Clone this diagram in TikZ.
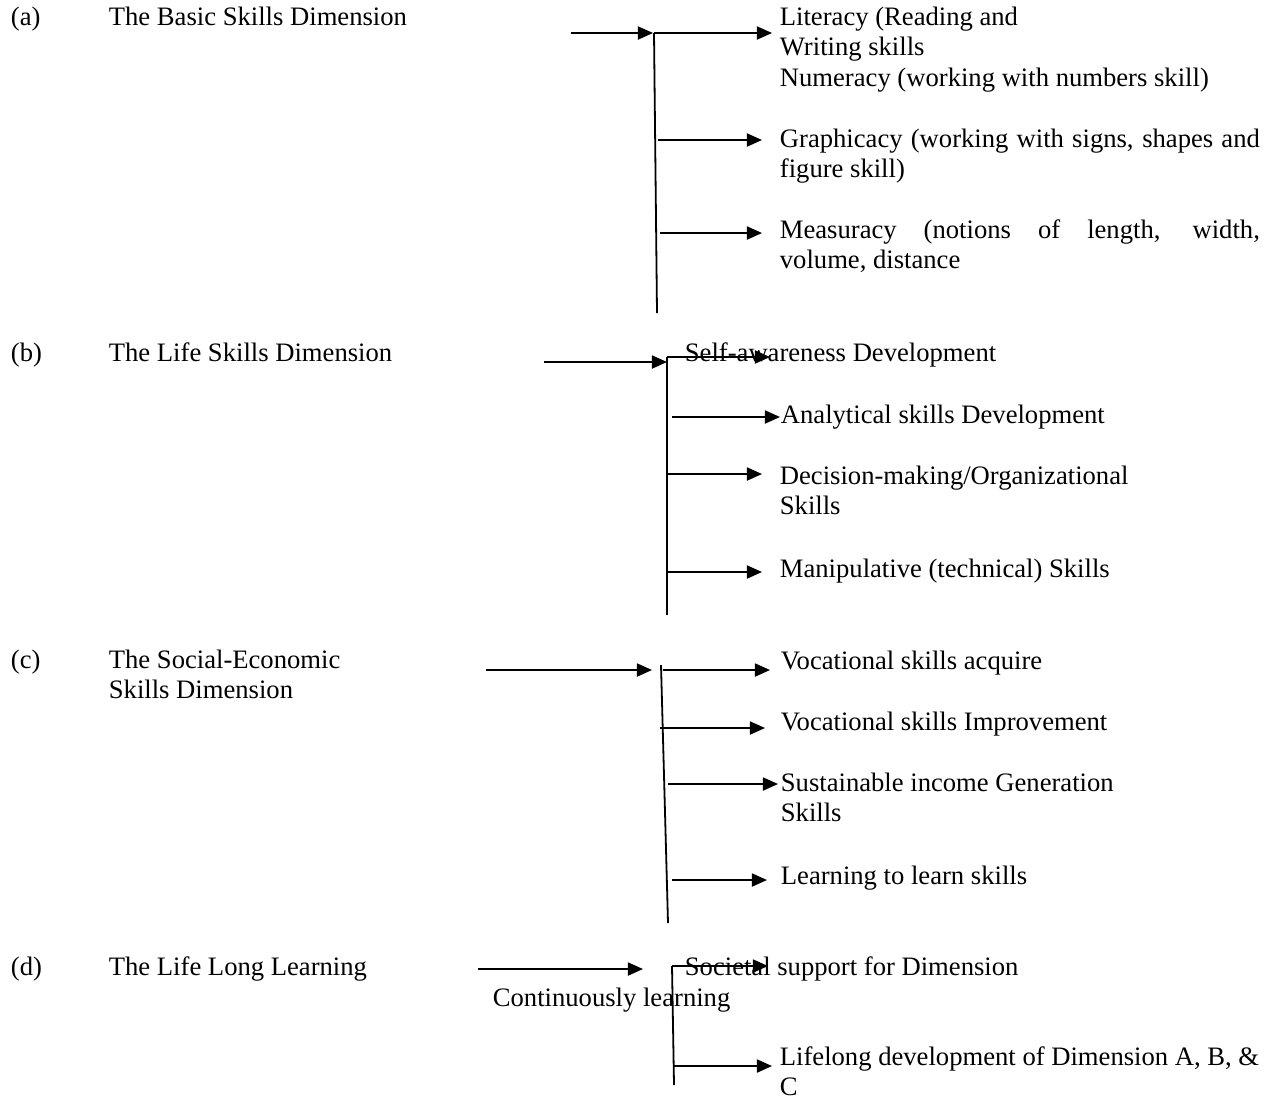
\documentclass[tikz,border=0pt]{standalone}
\usepackage{fontspec}
\setmainfont{Liberation Serif}
\usetikzlibrary{arrows.meta}

\begin{document}
\begin{tikzpicture}[> = {Triangle[length = 6.7pt, width = 5.8pt]},
	x = 0.445pt, y = -0.445pt, line width = 0.8pt,
	txt/.style = {anchor = base west, inner sep = 0pt, font = \fontsize{11.85}{13.6}\selectfont},
	mtxt/.style = {txt, text width = 230pt, align = flush left},
	jtxt/.style = {txt, text width = 213.6pt, align = justify}]

	% Definitions

	\useasboundingbox (0, 0) rectangle (1272, 1099);

	% Draw dimension labels

	\foreach \n/\y/\s in {a/25/The Basic Skills Dimension, b/361/The Life Skills Dimension,
		c/668/{The Social-Economic\\Skills Dimension}, d/975/The Life Long Learning}
	{
		\node [txt] (tag\n) at (10, \y) {(\n)};
		\node [mtxt] (dim\n) at (108, \y) {\s};
	}

	% Draw skill texts

	\node [mtxt] (lit) at (779, 25) {Literacy (Reading and\\Writing skills\\Numeracy (working with numbers skill)};
	\node [jtxt] (gra) at (779, 147) {Graphicacy (working with signs, shapes and\linebreak figure skill)};
	\node [jtxt] (mea) at (779, 238) {Measuracy (notions of length, width,\linebreak volume, distance};

	\node [txt] (sel) at (684, 361) {Self-awareness Development};
	\node [txt] (ana) at (780, 423) {Analytical skills Development};
	\node [mtxt] (dec) at (779, 484) {Decision-making/Organizational\\Skills};
	\node [txt] (man) at (779, 577) {Manipulative (technical) Skills};

	\node [txt] (voa) at (780, 669) {Vocational skills acquire};
	\node [txt] (voi) at (780, 730) {Vocational skills Improvement};
	\node [mtxt] (sus) at (780, 791) {Sustainable income Generation\\Skills};
	\node [txt] (lea) at (780, 884) {Learning to learn skills};

	\node [txt] (soc) at (684, 975) {Societal support for Dimension};
	\node [txt] (con) at (492, 1006) {Continuously learning};
	\node [mtxt] (lif) at (779, 1065) {Lifelong development of Dimension A, B, \&\\C};

	% Draw vertical bars

	\foreach \n/\xt/\yt/\xb/\yb in {a/654/33/657/313, b/667/357/667/615, c/661/665/668/923, d/672/966/674/1085}
	{
		\coordinate (top\n) at (\xt, \yt);
		\coordinate (bot\n) at (\xb, \yb);
		\draw (top\n) -- (bot\n);
	}

	% Draw incoming arrows

	\foreach \n/\xs/\xe/\y in {a/571/653/33, b/544/667/362, c/486/652/670, d/478/643/969}
	{
		\coordinate (in\n) at (\xs, \y);
		\coordinate (tip\n) at (\xe, \y);
		\draw [->] (in\n) -- (tip\n);
	}

	% Draw branch arrows

	\foreach \n/\xs/\xe/\y in {a1/654/772/33, a2/658/762/140, a3/660/762/233,
		b1/667/770/357, b2/672/780/417, b3/667/762/474, b4/667/762/572,
		c1/663/770/670, c2/660/765/728, c3/668/778/784, c4/672/767/880,
		d1/672/768/966, d2/674/772/1066}
	{
		\coordinate (from\n) at (\xs, \y);
		\coordinate (to\n) at (\xe, \y);
		\draw [->] (from\n) -- (to\n);
	}

\end{tikzpicture}
\end{document}
